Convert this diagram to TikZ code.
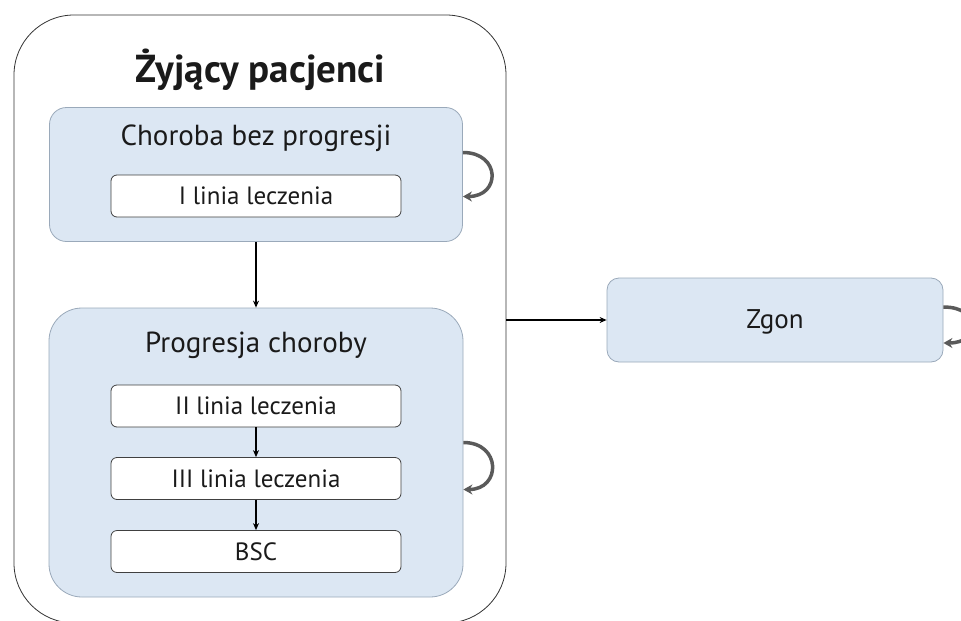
\documentclass[tikz,border=0pt]{standalone}
\usepackage{fontspec}
\setmainfont{PT Sans}
\usetikzlibrary{arrows.meta,calc}
\definecolor{boxfill}{HTML}{DCE7F3}
\definecolor{boxdraw}{HTML}{9AA9BA}
\definecolor{loopcol}{HTML}{5A5A5A}
\definecolor{txt}{HTML}{1A1A1A}
\tikzset{
  outerbox/.style={draw=black!80, line width=0.8pt, rounded corners=60pt, minimum width=492pt, minimum height=608pt, inner sep=0pt},
  statebox/.style={draw=boxdraw, fill=boxfill, line width=0.8pt, inner sep=0pt},
  linebox/.style={draw=black!75, fill=white, line width=0.8pt, rounded corners=6pt, minimum width=290pt, minimum height=42pt, inner sep=0pt, font=\fontsize{25}{27}\selectfont, text=txt},
  lbl/.style={font=\fontsize{29}{31}\selectfont, text=txt, inner sep=0pt},
  flow/.style={-{Stealth[length=7pt,width=6pt]}, line width=1.1pt, black},
  selfloop/.style={-{Stealth[length=9pt,width=10pt]}, line width=3.5pt, loopcol}
}
\begin{document}
\begin{tikzpicture}[x=1pt,y=-1pt]
\useasboundingbox (0,0) rectangle (961,621);
\node[outerbox] (outer) at (260,319) {};
\node[font=\bfseries\fontsize{39}{41}\selectfont, text=txt, inner sep=0pt] (title) at (260,70) {Żyjący pacjenci};
\node[statebox, rounded corners=17pt, minimum width=413pt, minimum height=134pt] (chor) at (256,174.5) {};
\node[lbl] (chort) at (256,138) {Choroba bez progresji};
\node[linebox] (l1) at (256,196) {I linia leczenia};
\node[statebox, rounded corners=33pt, minimum width=414pt, minimum height=289pt] (prog) at (256,452.5) {};
\node[lbl] (progt) at (256,345) {Progresja choroby};
\node[linebox] (l2) at (256,406) {II linia leczenia};
\node[linebox] (l3) at (256,478.5) {III linia leczenia};
\node[linebox] (bsc) at (256,551.5) {BSC};
\node[statebox, rounded corners=12pt, minimum width=336pt, minimum height=84pt] (zgon) at (775,320) {};
\node[font=\fontsize{27}{29}\selectfont, text=txt, inner sep=0pt] (zgont) at (775,322) {Zgon};
\draw[flow] (chor.south) -- (prog.north);
\draw[flow] (l2.south) -- (l3.north);
\draw[flow] (l3.south) -- (bsc.north);
\draw[flow] (zgon.west -| outer.east) -- (zgon.west);
\draw[selfloop] ($(chor.east)+(0,-22)$) .. controls +(38,0) and +(38,0) .. ($(chor.east)+(0,22)$);
\draw[selfloop] ($(prog.east)+(0,-10)$) .. controls +(38,0) and +(38,0) .. ($(prog.east)+(0,37)$);
\draw[selfloop] ($(zgon.east)+(0,-13)$) .. controls +(38,0) and +(38,0) .. ($(zgon.east)+(0,23)$);
\end{tikzpicture}
\end{document}
